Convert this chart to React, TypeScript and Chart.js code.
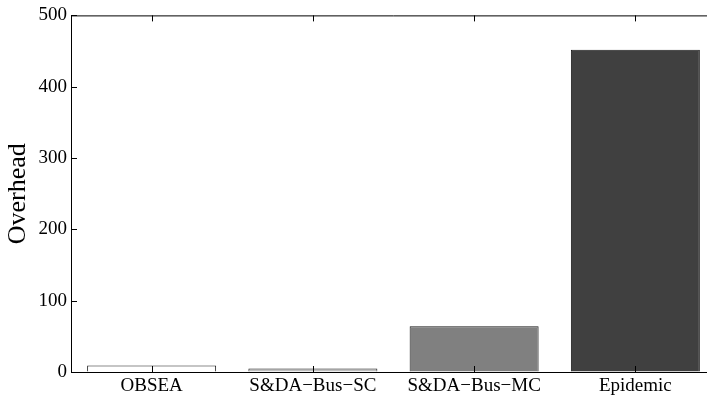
import React, { useEffect, useRef } from "react";
import { Chart, registerables } from "chart.js";

Chart.register(...registerables);

const categories = ["OBSEA", "S&DA\u2212Bus\u2212SC", "S&DA\u2212Bus\u2212MC", "Epidemic"];
const overhead = [9, 5, 64, 452];
const barColors = ["#ffffff", "#bfbfbf", "#808080", "#404040"];
const yTicks = [0, 100, 200, 300, 400, 500];

const FONT = "'Liberation Serif', 'Times New Roman', serif";

// Inward tick marks on the left, top and bottom edges plus the top frame line
const frameTicks = {
  id: "frameTicks",
  afterDraw(chart: any) {
    const { ctx, chartArea } = chart;
    const { left, right, top, bottom } = chartArea;
    const x = chart.scales.x;
    const y = chart.scales.y;
    const len = 6;
    ctx.save();
    ctx.strokeStyle = "#000";
    ctx.lineWidth = 1;
    ctx.beginPath();
    ctx.moveTo(left, top + 0.5);
    ctx.lineTo(right, top + 0.5);
    yTicks.forEach((v) => {
      const py = Math.round(y.getPixelForValue(v)) + 0.5;
      ctx.moveTo(left, py);
      ctx.lineTo(left + len, py);
    });
    categories.forEach((_, i) => {
      const px = Math.round(x.getPixelForValue(i)) + 0.5;
      ctx.moveTo(px, top);
      ctx.lineTo(px, top + len);
      ctx.moveTo(px, bottom);
      ctx.lineTo(px, bottom - len);
    });
    ctx.stroke();
    ctx.restore();
  },
};

export default function App() {
  const ref = useRef<HTMLCanvasElement | null>(null);

  useEffect(() => {
    if (!ref.current) return;
    const chart = new Chart(ref.current, {
      type: "bar",
      data: {
        labels: categories,
        datasets: [
          {
            data: overhead,
            backgroundColor: barColors,
            borderColor: "#1a1a1a",
            borderWidth: 1,
            barPercentage: 0.8,
            categoryPercentage: 1.0,
          },
        ],
      },
      options: {
        responsive: false,
        animation: false,
        devicePixelRatio: 1,
        layout: { padding: { left: 0, right: 14, top: 13, bottom: 0 } },
        plugins: { legend: { display: false }, tooltip: { enabled: false } },
        scales: {
          x: {
            offset: true,
            grid: { display: true, drawOnChartArea: false, drawTicks: false },
            border: { display: true, color: "#000", width: 1 },
            ticks: {
              color: "#000",
              padding: 3,
              maxRotation: 0,
              autoSkip: false,
              font: { family: FONT, size: 19 },
            },
            afterFit(scale: any) {
              scale.height = 25;
            },
          },
          y: {
            min: 0,
            max: 500,
            grid: { display: true, drawOnChartArea: false, drawTicks: false },
            border: { display: true, color: "#000", width: 1 },
            ticks: {
              stepSize: 100,
              color: "#000",
              padding: 4,
              font: { family: FONT, size: 19 },
            },
            title: {
              display: true,
              text: "Overhead",
              color: "#000",
              font: { family: FONT, size: 26 },
              padding: { top: 3, bottom: 0 },
            },
            afterFit(scale: any) {
              scale.width = 71;
            },
          },
        },
      },
      plugins: [frameTicks],
    });
    return () => chart.destroy();
  }, []);

  return (
    <div
      style={{
        position: "fixed",
        left: 0,
        top: 0,
        width: 707,
        height: 397,
        overflow: "hidden",
        background: "#fff",
      }}
    >
      <canvas
        ref={ref}
        width={730}
        height={397}
        style={{ display: "block", position: "absolute", left: 0, top: 0 }}
      />
    </div>
  );
}
